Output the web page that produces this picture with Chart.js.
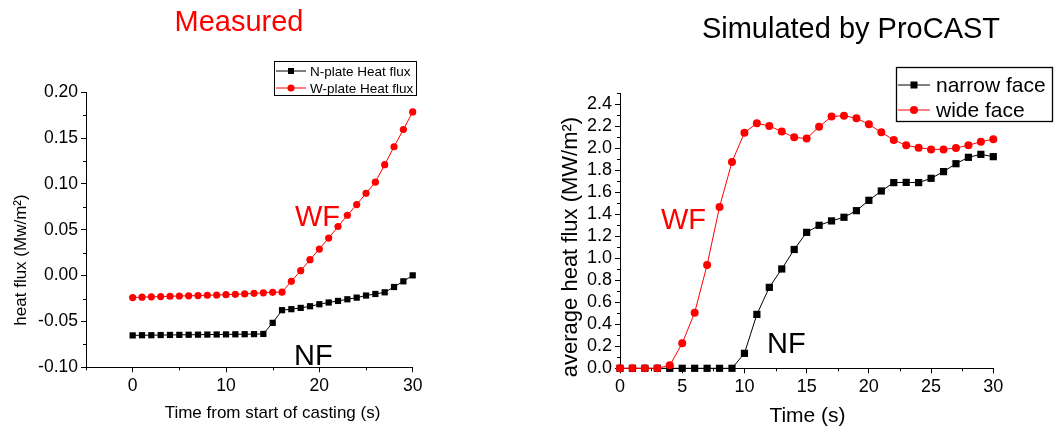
<!DOCTYPE html>
<html><head><meta charset="utf-8">
<script src="https://cdn.jsdelivr.net/npm/chart.js@4"></script>
<style>
html,body{margin:0;padding:0;background:#fff;width:1054px;height:431px;overflow:hidden}
.wrap{position:absolute;top:0;width:527px;height:431px}
canvas{display:block}
</style></head><body>
<div class="wrap" style="left:0"><canvas id="c1" width="527" height="431"></canvas></div>
<div class="wrap" style="left:527px"><canvas id="c2" width="527" height="431"></canvas></div>
<script>
// ---- data ----
const time = [0,1,2,3,4,5,6,7,8,9,10,11,12,13,14,15,16,17,18,19,20,21,22,23,24,25,26,27,28,29,30];
const nPlateHeatFlux = [-0.0652,-0.065,-0.065,-0.0648,-0.0647,-0.0646,-0.0645,-0.0644,-0.0643,-0.0642,-0.0641,-0.064,-0.0639,-0.0638,-0.0636,-0.0515,-0.0377,-0.0366,-0.0352,-0.0334,-0.0312,-0.0293,-0.0276,-0.0258,-0.024,-0.0217,-0.02,-0.0182,-0.0124,-0.0062,0.0003];
const wPlateHeatFlux = [-0.0239,-0.0235,-0.0231,-0.0228,-0.0225,-0.0222,-0.022,-0.0217,-0.0214,-0.0211,-0.0208,-0.0204,-0.0199,-0.0193,-0.0188,-0.0182,-0.018,-0.0062,0.0054,0.0174,0.029,0.041,0.0536,0.0659,0.0775,0.0898,0.102,0.121,0.1406,0.1594,0.1786];
const narrowFace = [0,0,0,0,0,0,0,0,0,0,0.136,0.49,0.736,0.903,1.08,1.236,1.30,1.34,1.373,1.433,1.527,1.612,1.688,1.69,1.688,1.727,1.788,1.86,1.918,1.945,1.924];
const wideFace = [0,0,0,0,0.027,0.227,0.506,0.939,1.467,1.876,2.142,2.227,2.203,2.152,2.1,2.088,2.197,2.288,2.297,2.273,2.218,2.145,2.076,2.027,2.006,1.99,1.99,2.003,2.027,2.06,2.082];
const leftXTicks = [0,10,20,30];
const leftYTicks = [-0.10,-0.05,0.00,0.05,0.10,0.15,0.20];
const rightXTicks = [0,5,10,15,20,25,30];
const rightYTicks = [0,0.2,0.4,0.6,0.8,1.0,1.2,1.4,1.6,1.8,2.0,2.2,2.4];
const leftLegend = ['N-plate Heat flux','W-plate Heat flux'];
const rightLegend = ['narrow face','wide face'];

const FONT = '"Liberation Sans", Arial, Helvetica, sans-serif';
const RED = '#ff0000', BLACK = '#000000';

function pts(arr){ return time.map((t,i)=>({x:t,y:arr[i]})); }

// plugin: minor ticks, texts, legend
const decor = {
  id:'decor',
  afterDraw(chart, args, o){
    const ctx = chart.ctx;
    ctx.save();
    ctx.strokeStyle = BLACK; ctx.lineWidth = 1;
    const xs = chart.scales.x, ys = chart.scales.y;
    (o.minorX||[]).forEach(v=>{
      const px = Math.round(xs.getPixelForValue(v))+0.5;
      ctx.beginPath(); ctx.moveTo(px, ys.bottom); ctx.lineTo(px, ys.bottom+3); ctx.stroke();
    });
    (o.minorY||[]).forEach(v=>{
      const py = Math.round(ys.getPixelForValue(v))+0.5;
      ctx.beginPath(); ctx.moveTo(xs.left, py); ctx.lineTo(xs.left-3, py); ctx.stroke();
    });
    (o.texts||[]).forEach(t=>{
      ctx.save();
      ctx.font = t.font; ctx.fillStyle = t.color || BLACK;
      ctx.textAlign = t.align || 'left';
      ctx.textBaseline = t.baseline || 'alphabetic';
      ctx.translate(t.x, t.y);
      if (t.rot) ctx.rotate(t.rot);
      ctx.fillText(t.text, 0, 0);
      ctx.restore();
    });
    const L = o.legend;
    if (L){
      ctx.lineWidth = L.boxWidth; ctx.strokeStyle = BLACK;
      ctx.strokeRect(L.box[0], L.box[1], L.box[2], L.box[3]);
      L.rows.forEach((r,i)=>{
        const y = L.rowY[i];
        ctx.strokeStyle = r.color; ctx.lineWidth = 1;
        ctx.beginPath(); ctx.moveTo(L.lineX[0], y); ctx.lineTo(L.lineX[1], y); ctx.stroke();
        ctx.fillStyle = r.color;
        const mx = (L.lineX[0]+L.lineX[1])/2;
        if (r.shape==='rect'){ ctx.fillRect(mx-r.size/2, y-r.size/2, r.size, r.size); }
        else { ctx.beginPath(); ctx.arc(mx, y, r.size/2, 0, Math.PI*2); ctx.fill(); }
        ctx.font = L.font; ctx.fillStyle = BLACK; ctx.textAlign='left'; ctx.textBaseline='middle';
        ctx.fillText(r.label, L.textX, y+1);
      });
    }
    ctx.restore();
  }
};

function range(a,b,s){ const r=[]; for(let v=a; v<=b+1e-9; v+=s) r.push(+v.toFixed(4)); return r; }

function axis(opts){
  return Object.assign({
    type:'linear',
    border:{display:true,color:BLACK,width:1},
    grid:{display:true,drawOnChartArea:false,drawTicks:true,tickLength:5,color:BLACK,tickColor:BLACK,tickWidth:1},
  }, opts);
}

// ---- left chart ----
new Chart(document.getElementById('c1'), {
  type:'line',
  data:{datasets:[
    {label:leftLegend[1], data:pts(wPlateHeatFlux), borderColor:RED, backgroundColor:RED, borderWidth:1,
     pointStyle:'circle', pointRadius:3.6, pointBorderWidth:0, pointBackgroundColor:RED, tension:0, clip:false, order:0},
    {label:leftLegend[0], data:pts(nPlateHeatFlux), borderColor:BLACK, backgroundColor:BLACK, borderWidth:1,
     pointStyle:'rect', pointRadius:4.4, pointBorderWidth:0, pointBackgroundColor:BLACK, tension:0, clip:false, order:1}
  ]},
  options:{
    responsive:false, animation:false, devicePixelRatio:1,
    layout:{padding:{top:92.3,right:114.3,left:0,bottom:0}},
    plugins:{legend:{display:false},tooltip:{enabled:false},
      decor:{
        minorX: range(-5,25,10),
        minorY: range(-0.075,0.175,0.05),
        texts:[
          {text:'Measured', x:239, y:31, font:'29px '+FONT, color:RED, align:'center'},
          {text:'heat flux (Mw/m²)', x:21, y:260, font:'17px '+FONT, align:'center', baseline:'middle', rot:-Math.PI/2},
          {text:'Time from start of casting (s)', x:272.5, y:418, font:'17px '+FONT, align:'center'},
          {text:'WF', x:295, y:226, font:'29px '+FONT, color:RED},
          {text:'NF', x:294, y:365, font:'29px '+FONT, color:BLACK}
        ],
        legend:{box:[274.5,61.5,142,34], boxWidth:1, rowY:[71,88], lineX:[276,306], textX:310, font:'13.5px '+FONT,
          rows:[{label:leftLegend[0],color:BLACK,shape:'rect',size:6},{label:leftLegend[1],color:RED,shape:'circle',size:7}]}
      }
    },
    scales:{
      x: axis({min:-5,max:30,
        afterBuildTicks:s=>{s.ticks=leftXTicks.map(v=>({value:v}));},
        afterFit:s=>{s.height=63.7;},
        ticks:{color:BLACK,font:{family:FONT,size:17.5},padding:3,maxRotation:0,autoSkip:false,callback:v=>String(v)}}),
      y: axis({min:-0.10,max:0.20,
        afterBuildTicks:s=>{s.ticks=leftYTicks.map(v=>({value:v}));},
        afterFit:s=>{s.width=86;},
        ticks:{color:BLACK,font:{family:FONT,size:17.5},padding:3,autoSkip:false,callback:v=>Number(v).toFixed(2)}})
    }
  },
  plugins:[decor]
});

// ---- right chart (canvas offset 527) ----
const OX = 527;
new Chart(document.getElementById('c2'), {
  type:'line',
  data:{datasets:[
    {label:rightLegend[1], data:pts(wideFace), borderColor:RED, backgroundColor:RED, borderWidth:1,
     pointStyle:'circle', pointRadius:4, pointBorderWidth:0, pointBackgroundColor:RED, tension:0, clip:false, order:0},
    {label:rightLegend[0], data:pts(narrowFace), borderColor:BLACK, backgroundColor:BLACK, borderWidth:1,
     pointStyle:'rect', pointRadius:5.1, pointBorderWidth:0, pointBackgroundColor:BLACK, tension:0, clip:false, order:1}
  ]},
  options:{
    responsive:false, animation:false, devicePixelRatio:1,
    layout:{padding:{top:93.3,right:60.7,left:0,bottom:0}},
    plugins:{legend:{display:false},tooltip:{enabled:false},
      decor:{
        minorX: range(2.5,27.5,5),
        minorY: range(0.1,2.5,0.2),
        texts:[
          {text:'Simulated by ProCAST', x:851-OX, y:38, font:'29px '+FONT, color:BLACK, align:'center'},
          {text:'average heat flux (MW/m²)', x:571-OX, y:247, font:'22px '+FONT, align:'center', baseline:'middle', rot:-Math.PI/2},
          {text:'Time (s)', x:807.5-OX, y:421.7, font:'21px '+FONT, align:'center'},
          {text:'WF', x:661-OX, y:229, font:'29px '+FONT, color:RED},
          {text:'NF', x:767-OX, y:353, font:'29px '+FONT, color:BLACK}
        ],
        legend:{box:[896.5-OX,67.5,156,54], boxWidth:1.3, rowY:[85,110], lineX:[898-OX,930-OX], textX:936-OX, font:'21px '+FONT,
          rows:[{label:rightLegend[0],color:BLACK,shape:'rect',size:7},{label:rightLegend[1],color:RED,shape:'circle',size:8}]}
      }
    },
    scales:{
      x: axis({min:0,max:30,
        afterBuildTicks:s=>{s.ticks=rightXTicks.map(v=>({value:v}));},
        afterFit:s=>{s.height=62.7;},
        ticks:{color:BLACK,font:{family:FONT,size:18},padding:3,maxRotation:0,autoSkip:false,callback:v=>String(v)}}),
      y: axis({min:0,max:2.5,
        afterBuildTicks:s=>{s.ticks=rightYTicks.map(v=>({value:v}));},
        afterFit:s=>{s.width=93;},
        ticks:{color:BLACK,font:{family:FONT,size:18},padding:3,autoSkip:false,callback:v=>Number(v).toFixed(1)}})
    }
  },
  plugins:[decor]
});
</script>
</body></html>
